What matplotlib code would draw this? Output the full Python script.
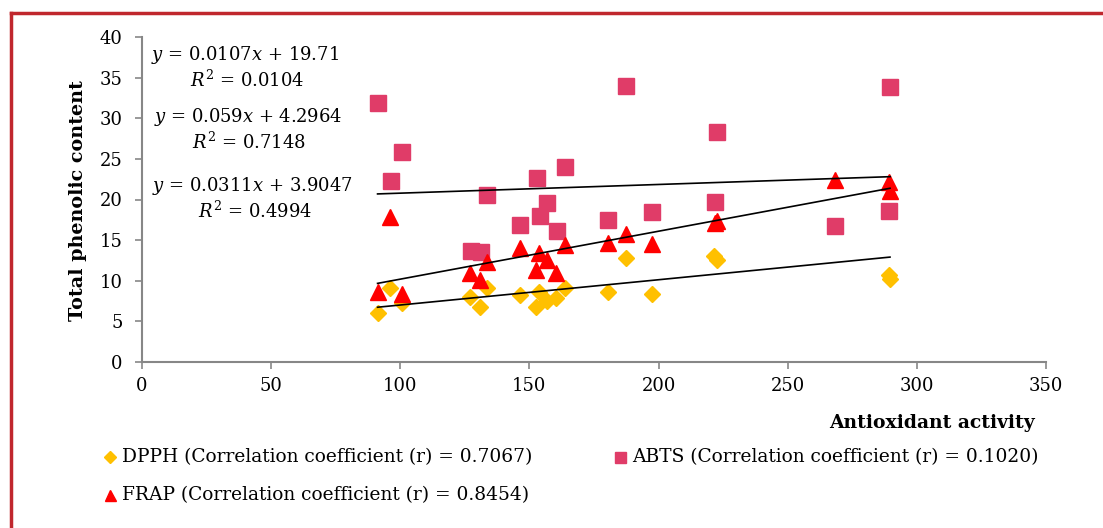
import matplotlib
matplotlib.use("Agg")
import matplotlib.pyplot as plt
from matplotlib.lines import Line2D
import numpy as np

# ---------------- data ----------------
dpph_x = [91.2, 96.1, 100.5, 126.9, 130.9, 133.5, 146.2, 152.5, 153.7, 156.7,
          160.3, 163.8, 180.5, 187.2, 197.4, 221.6, 222.6, 289.4, 289.6]
dpph_y = [6.0, 9.1, 7.3, 8.0, 6.8, 9.1, 8.2, 6.8, 8.6, 7.5,
          7.9, 9.1, 8.6, 12.8, 8.4, 13.0, 12.6, 10.7, 10.2]

abts_x = [91.2, 96.3, 100.5, 127.3, 131.1, 133.7, 146.2, 152.8, 154.0, 156.7,
          160.5, 163.6, 180.5, 187.2, 197.5, 221.9, 222.7, 268.5, 289.4, 289.7]
abts_y = [31.9, 22.3, 25.8, 13.7, 13.6, 20.5, 16.9, 22.7, 18.0, 19.6,
          16.1, 24.0, 17.5, 34.0, 18.5, 19.7, 28.3, 16.7, 18.6, 33.9]

frap_x = [91.2, 96.1, 100.5, 127.1, 130.9, 133.5, 146.2, 152.5, 153.6, 156.7,
          160.3, 163.6, 180.5, 187.2, 197.4, 222.0, 222.6, 268.5, 289.4, 289.6]
frap_y = [8.6, 17.9, 8.4, 10.9, 10.1, 12.3, 14.0, 11.3, 13.4, 12.6,
          10.9, 14.4, 14.6, 15.7, 14.5, 17.1, 17.3, 22.4, 22.1, 21.0]

# trendline coefficients (slope, intercept) as printed on chart
dpph_fit = (0.0311, 3.9047)
abts_fit = (0.0107, 19.71)
frap_fit = (0.059, 4.2964)

eq_texts = [r"$y$ = 0.0107$x$ + 19.71", r"$R^2$ = 0.0104",
            r"$y$ = 0.059$x$ + 4.2964", r"$R^2$ = 0.7148",
            r"$y$ = 0.0311$x$ + 3.9047", r"$R^2$ = 0.4994"]

legend_labels = ["DPPH (Correlation coefficient (r) = 0.7067)",
                 "ABTS (Correlation coefficient (r) = 0.1020)",
                 "FRAP (Correlation coefficient (r) = 0.8454)"]

x_ticks = [0, 50, 100, 150, 200, 250, 300, 350]
y_ticks = [0, 5, 10, 15, 20, 25, 30, 35, 40]

# ---------------- style ----------------
FONT = "DejaVu Serif"
plt.rcParams["font.family"] = [FONT]
plt.rcParams["mathtext.fontset"] = "custom"
plt.rcParams["mathtext.rm"] = FONT
plt.rcParams["mathtext.it"] = FONT + ":italic"

c_dpph = "#FFC000"
c_abts = "#E03C68"
c_frap = "#FF0000"
c_axis = "#878787"

W, H = 1103, 528
fig = plt.figure(figsize=(W / 100, H / 100), dpi=100)

# red border (left and top visible)
fig.add_artist(Line2D([10.5 / W, 10.5 / W], [0, 1 - 13 / H], color="#C0272D",
                      lw=2.5, transform=fig.transFigure))
fig.add_artist(Line2D([10.5 / W, 1.0], [1 - 13 / H, 1 - 13 / H], color="#C0272D",
                      lw=2.5, transform=fig.transFigure))

ax = fig.add_axes([142 / W, (H - 362) / H, (1046 - 142) / W, (362 - 37) / H])
ax.set_xlim(0, 350)
ax.set_ylim(0, 40)
ax.set_xticks(x_ticks)
ax.set_yticks(y_ticks)
for s in ["top", "right"]:
    ax.spines[s].set_visible(False)
for s in ["left", "bottom"]:
    ax.spines[s].set_color(c_axis)
    ax.spines[s].set_linewidth(1.5)
ax.tick_params(axis="both", direction="out", length=5, width=1.2, color=c_axis,
               labelsize=13, labelcolor="black")
ax.tick_params(axis="y", pad=9)
ax.tick_params(axis="x", pad=6)

ms = 11
ax.plot(dpph_x, dpph_y, linestyle="none", marker="D", ms=ms * 0.78, color=c_dpph,
        mec=c_dpph, zorder=3)
ax.plot(abts_x, abts_y, linestyle="none", marker="s", ms=ms, color=c_abts,
        mec=c_abts, zorder=3)
ax.plot(frap_x, frap_y, linestyle="none", marker="^", ms=ms, color=c_frap,
        mec=c_frap, zorder=3)

for xs, (m, b) in [(dpph_x, dpph_fit), (abts_x, abts_fit), (frap_x, frap_fit)]:
    xx = np.array([min(xs), max(xs)])
    ax.plot(xx, m * xx + b, color="black", lw=1.2, zorder=4)

# equations
eq_pos = [(245, 55), (247, 80), (248, 117), (249, 142), (252, 186), (255, 211)]
for (px, py), t in zip(eq_pos, eq_texts):
    fig.text(px / W, 1 - py / H, t, ha="center", va="center", fontsize=13)

ax.set_ylabel("Total phenolic content", fontsize=13.8, fontweight="bold")
ax.yaxis.set_label_coords((87 - 142) / 904, (362 - 201) / 325)
fig.text(1035 / W, 1 - 423 / H, "Antioxidant activity", ha="right", va="center",
         fontsize=13.5, fontweight="bold")

# legend (manual rows)
leg_items = [(110, 457, "D", c_dpph, 0.6, legend_labels[0]),
             (620, 457, "s", c_abts, 0.72, legend_labels[1]),
             (110, 495, "^", c_frap, 0.72, legend_labels[2])]
for px, py, mk, col, sc, lab in leg_items:
    fig.add_artist(Line2D([px / W], [1 - py / H], marker=mk, color=col, ms=ms * sc,
                          linestyle="none", transform=fig.transFigure))
    fig.text((px + 12) / W, 1 - py / H, lab, ha="left", va="center", fontsize=13.4)

fig.savefig("out.png", dpi=100)
